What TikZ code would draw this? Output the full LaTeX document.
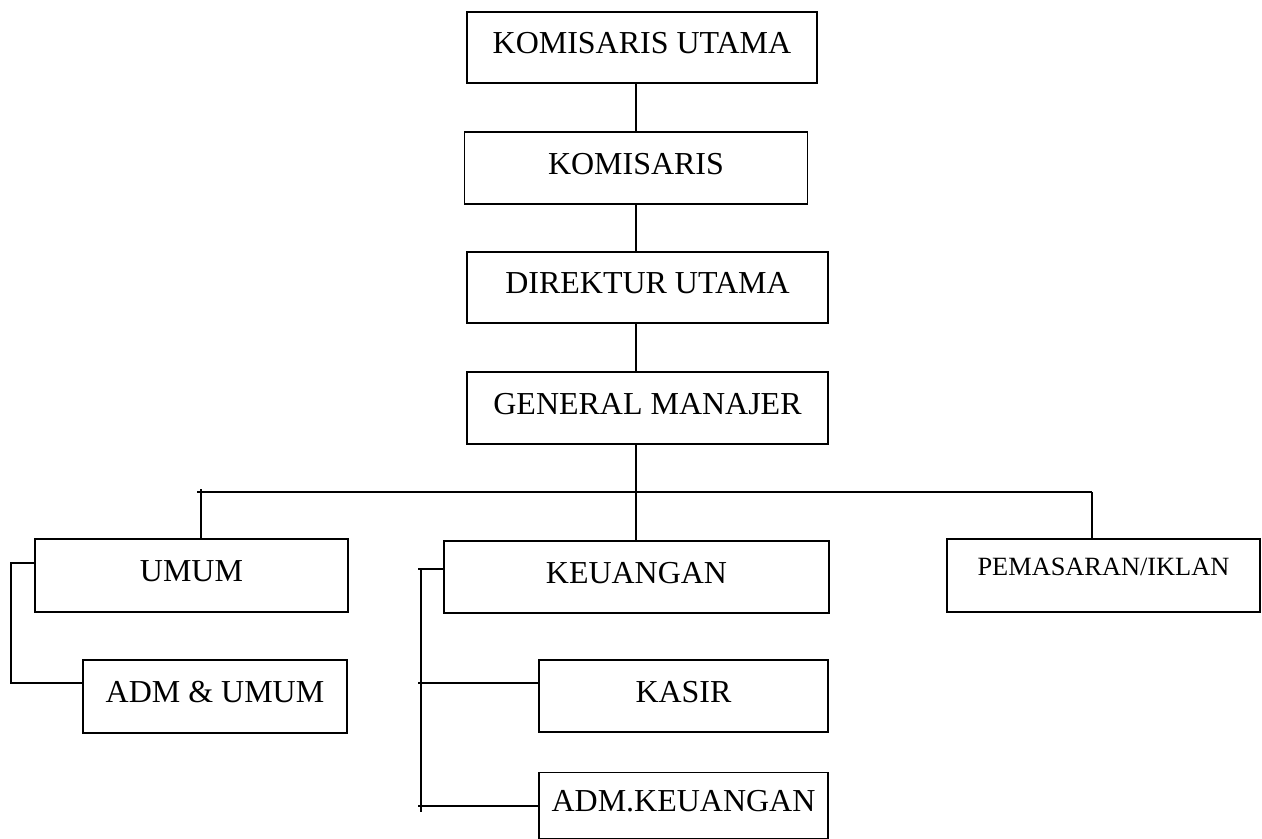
\documentclass[tikz,border=0pt]{standalone}
\usepackage{fontspec}
\setmainfont{Liberation Serif}

\tikzset{
  unit/.style={draw, line width=1pt, inner sep=0pt, align=center,
    font=\fontsize{18.2}{20}\selectfont, text height=12pt, text depth=5.1pt},
  smallunit/.style={unit, font=\fontsize{15}{17}\selectfont, text height=9.9pt, text depth=9.7pt},
  link/.style={line width=1pt},
}

\begin{document}
\begin{tikzpicture}[x=0.02cm, y=-0.02cm]
            \useasboundingbox (0,0) rectangle (1262,839);

            % top line
            \node[unit, minimum width=350*0.02cm, minimum height=71*0.02cm] (ku) at (642,47.5) {KOMISARIS UTAMA};
            \node[unit, minimum width=343*0.02cm, minimum height=72*0.02cm] (kom) at (636,168) {KOMISARIS};
            \node[unit, minimum width=361*0.02cm, minimum height=71*0.02cm] (dir) at (647.5,287.5) {DIREKTUR UTAMA};
            \node[unit, minimum width=361*0.02cm, minimum height=72*0.02cm] (gm) at (647.5,408) {GENERAL MANAJER};

            % divisions
            \node[unit, minimum width=313*0.02cm, minimum height=73*0.02cm] (umum) at (191.5,575.5) {UMUM};
            \node[unit, minimum width=264*0.02cm, minimum height=73*0.02cm] (admu) at (215,696.5) {ADM \& UMUM};
            \node[unit, minimum width=385*0.02cm, minimum height=72*0.02cm] (keu) at (636.5,577) {KEUANGAN};
            \node[unit, minimum width=289*0.02cm, minimum height=72*0.02cm] (kasir) at (683.5,696) {KASIR};
            \node[unit, minimum width=289*0.02cm, minimum height=66*0.02cm] (admk) at (683.5,805.5) {ADM.KEUANGAN};
            \node[smallunit, minimum width=313*0.02cm, minimum height=73*0.02cm] (pem) at (1103.5,575.5) {PEMASARAN/IKLAN};

            % spine
            \draw[link] (kom.north) -- (kom.north |- ku.south);
            \draw[link] (kom.south) -- (kom.south |- dir.north);
            \draw[link] (kom.south |- dir.south) -- (kom.south |- gm.north);
            \draw[link] (kom.south |- gm.south) -- (kom.south |- keu.north);

            % bar
            \coordinate (barL) at (197,492);
            \coordinate (barR) at (1092,492);
            \coordinate (umumtop) at (201,489);
            \draw[link] (barL) -- (barR);
            \draw[link] (umumtop) -- (umumtop |- umum.north);
            \draw[link] (barR) -- (barR |- pem.north);

            % umum bracket
            \coordinate (ul) at (11,563);
            \coordinate (ub) at (11,683);
            \draw[link] (ul -| umum.west) -- (ul) -- (ub) -- (ub -| admu.west);

            % keuangan bracket
            \coordinate (kt) at (418,569);
            \coordinate (km) at (418,683);
            \coordinate (kb) at (418,806);
            \coordinate (kv) at (421,812);
            \draw[link] (kt) -- (kt -| keu.west);
            \draw[link] (km) -- (km -| kasir.west);
            \draw[link] (kb) -- (kb -| admk.west);
            \draw[link] (kt -| kv) -- (kv);
        \end{tikzpicture}
\end{document}
